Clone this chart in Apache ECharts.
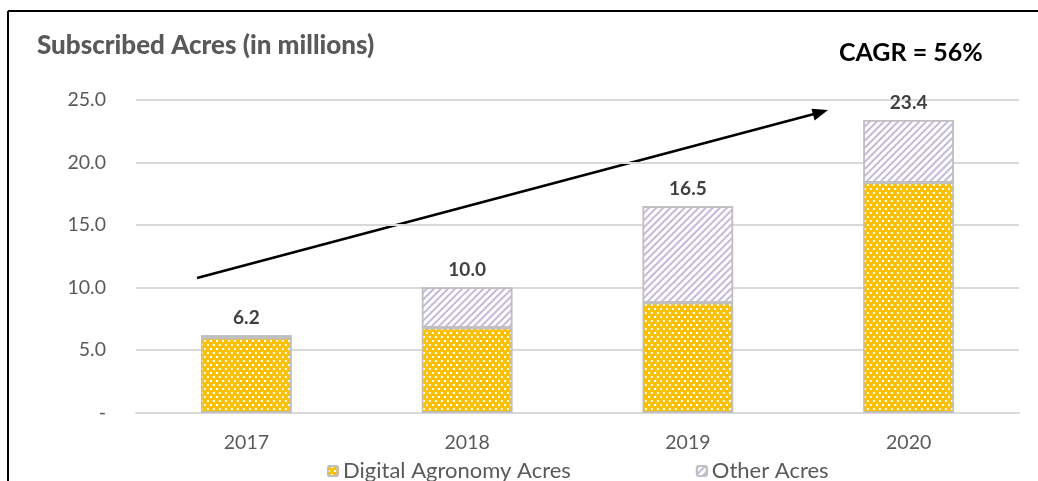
<!DOCTYPE html>
<html><head><meta charset="utf-8">
<script src="https://cdn.jsdelivr.net/npm/echarts@6/dist/echarts.min.js"></script>
<style>html,body{margin:0;padding:0;background:#fff}#c{width:1038px;height:481px}</style>
</head><body><div id="c"></div>
<script>
const years = ['2017', '2018', '2019', '2020'];
const digitalAcres = [6.0, 6.8, 8.8, 18.4];
const otherAcres = [0.2, 3.2, 7.7, 5.0];
const totalAcres = [6.2, 10.0, 16.5, 23.4];
const yTicks = [0, 5, 10, 15, 20, 25];
const seriesNames = ['Digital Agronomy Acres', 'Other Acres'];
const titleText = 'Subscribed Acres (in millions)';
const cagrText = 'CAGR = 56%';

const FONT = 'Lato';
const chart = echarts.init(document.getElementById('c'));
chart.setOption({
  animation: false,
  textStyle: { fontFamily: FONT },
  title: [
    { text: titleText, left: 32, top: 28, textStyle: { fontFamily: FONT, fontSize: 26, fontWeight: 900, color: '#595959' } },
    { text: cagrText, left: 834, top: 35, textStyle: { fontFamily: FONT, fontSize: 25, fontWeight: 'bold', color: '#000' } }
  ],
  grid: { left: 136, right: 19, top: 100, bottom: 68.3 },
  legend: {
    top: 455, left: 322, itemWidth: 10, itemHeight: 10, itemGap: 125,
    data: seriesNames,
    textStyle: { fontFamily: FONT, fontSize: 22, color: '#595959' }
  },
  xAxis: {
    type: 'category', data: years,
    axisLine: { lineStyle: { color: '#D9D9D9', width: 2 } },
    axisTick: { show: false },
    axisLabel: { fontFamily: FONT, fontSize: 19.5, color: '#595959', margin: 20 }
  },
  yAxis: {
    type: 'value', min: yTicks[0], max: yTicks[yTicks.length - 1], interval: yTicks[1] - yTicks[0],
    axisLine: { show: false }, axisTick: { show: false },
    splitLine: { lineStyle: { color: '#D9D9D9', width: 2 } },
    axisLabel: { fontFamily: FONT, fontSize: 19.5, color: '#595959', margin: 30,
      formatter: v => v === 0 ? '-' : v.toFixed(1) }
  },
  series: [
    {
      name: seriesNames[0], type: 'bar', stack: 'a', data: digitalAcres, barWidth: '41%',
      itemStyle: {
        color: '#FFC000', borderColor: '#BFBFBF', borderWidth: 1.5,
        decal: { symbol: 'rect', symbolSize: 1, color: '#ffffff',
          dashArrayX: [[2, 4], [0, 3, 2, 1]], dashArrayY: [2, 2] }
      }
    },
    {
      name: seriesNames[1], type: 'bar', stack: 'a', data: otherAcres, barWidth: '41%',
      itemStyle: {
        color: '#ffffff', borderColor: '#BFBFBF', borderWidth: 1.5,
        decal: { symbol: 'rect', symbolSize: 1, color: '#C4B8DD',
          dashArrayX: [1, 0], dashArrayY: [2, 2.5], rotation: -Math.PI / 4 }
      },
      label: {
        show: true, position: 'top', distance: 8,
        formatter: p => totalAcres[p.dataIndex].toFixed(1),
        fontFamily: FONT, fontSize: 19, fontWeight: 'bold', color: '#404040'
      }
    }
  ],
  graphic: [
    { type: 'line', shape: { x1: 8, y1: 11, x2: 1038, y2: 11 }, style: { stroke: '#000', lineWidth: 2 } },
    { type: 'line', shape: { x1: 8, y1: 11, x2: 8, y2: 481 }, style: { stroke: '#000', lineWidth: 2 } },
    { type: 'line', shape: { x1: 197, y1: 278, x2: 814, y2: 114 }, style: { stroke: '#000', lineWidth: 2.5 } },
    { type: 'polygon', shape: { points: [[828, 110], [814.6, 120.4], [811.5, 108.8]] }, style: { fill: '#000' } }
  ]
});
</script>
</body></html>
